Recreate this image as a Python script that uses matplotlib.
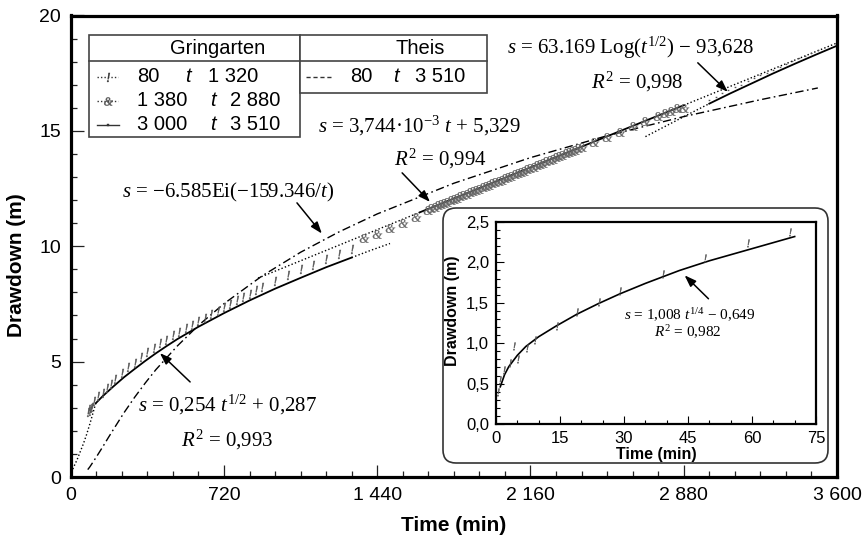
import matplotlib
matplotlib.use('Agg')
import matplotlib.pyplot as plt
from matplotlib import font_manager as fm
from matplotlib.patches import FancyBboxPatch, Rectangle
from matplotlib.lines import Line2D
from matplotlib.transforms import IdentityTransform, Affine2D
from matplotlib.textpath import TextPath
from matplotlib.ticker import MultipleLocator

# ---------------- data ----------------
# observed drawdown, Gringarten period 1 (80 <= t <= 1320)
t_obs1 = [80, 85, 90, 95, 100, 110, 130, 150, 170, 190, 210, 240, 270, 300, 330, 360, 390, 420,
          450, 480, 510, 540, 570, 600, 630, 660, 690, 720, 750, 780, 810, 840, 870, 900, 960,
          1020, 1080, 1140, 1200, 1260, 1320]
s_obs1 = [2.80, 2.95, 2.85, 3.00, 3.05, 3.30, 3.50, 3.65, 3.85, 4.05, 4.25, 4.50, 4.75, 4.95,
          5.20, 5.40, 5.60, 5.80, 5.95, 6.15, 6.30, 6.45, 6.60, 6.75, 6.90, 7.05, 7.20, 7.35,
          7.50, 7.65, 7.80, 7.95, 8.10, 8.25, 8.50, 8.75, 9.00, 9.20, 9.45, 9.65, 9.90]
# observed drawdown, period 2 (1380 <= t <= 2880)
t_obs2 = [1380, 1440, 1500, 1560, 1620, 1680, 1695, 1710, 1725, 1740, 1755, 1770, 1785, 1800,
          1815, 1830, 1845, 1860, 1875, 1890, 1905, 1920, 1935, 1950, 1965, 1980, 1995, 2010,
          2025, 2040, 2055, 2070, 2085, 2100, 2115, 2130, 2145, 2160, 2175, 2190, 2205, 2220,
          2235, 2250, 2265, 2280, 2295, 2310, 2325, 2340, 2355, 2370, 2385, 2400, 2460, 2520,
          2580, 2640, 2700, 2760, 2790, 2820, 2850, 2880]
s_obs2 = [10.35, 10.55, 10.80, 11.00, 11.25, 11.58, 11.66, 11.70, 11.77, 11.82, 11.88, 11.93,
          12.00, 12.05, 12.10, 12.16, 12.22, 12.27, 12.33, 12.39, 12.44, 12.50, 12.55, 12.61,
          12.67, 12.72, 12.78, 12.84, 12.89, 12.95, 13.00, 13.06, 13.12, 13.17, 13.23, 13.28,
          13.34, 13.40, 13.45, 13.51, 13.57, 13.62, 13.68, 13.74, 13.79, 13.85, 13.90, 13.96,
          14.02, 14.07, 14.13, 14.18, 14.24, 14.30, 14.52, 14.75, 14.97, 15.20, 15.42, 15.64,
          15.76, 15.87, 15.98, 16.00]
# observed drawdown, period 3 (3000 <= t <= 3510)
t_obs3 = [3000, 3030, 3060, 3090, 3120, 3150, 3180, 3210, 3240, 3270, 3300, 3330, 3360, 3390,
          3420, 3450, 3480, 3510]
s_obs3 = [16.35, 16.48, 16.62, 16.75, 16.88, 17.00, 17.14, 17.27, 17.40, 17.52, 17.65, 17.77,
          17.90, 18.02, 18.14, 18.26, 18.38, 18.50]

# fitted curves
t_early = [3, 15, 30, 45, 60, 75, 90, 100, 110, 118]
s_early = [0.20, 0.45, 0.75, 1.10, 1.45, 1.85, 2.30, 2.62, 2.95, 3.20]
t_sqrt = [118, 150, 200, 250, 300, 350, 400, 450, 500, 600, 720, 840, 960, 1080, 1200, 1320]
s_sqrt = [3.20, 3.50, 3.92, 4.32, 4.68, 5.03, 5.36, 5.67, 5.97, 6.51, 7.10, 7.65, 8.16, 8.63,
          9.09, 9.51]
t_sqrt_ext = [1320, 1400, 1500]
s_sqrt_ext = [9.51, 9.79, 10.12]
t_lin_pre = [880, 1640]
s_lin_pre = [8.62, 11.47]
t_lin = [1640, 2880]
s_lin = [11.47, 16.11]
t_lin_post = [2880, 3600]
s_lin_post = [16.11, 18.81]
t_log_pre = [2700, 2800, 2900, 3000]
s_log_pre = [14.75, 15.23, 15.71, 16.18]
t_log = [3000, 3100, 3200, 3300, 3400, 3500, 3600]
s_log = [16.18, 16.63, 17.06, 17.49, 17.90, 18.30, 18.69]
t_theis = [80, 90, 100, 120, 150, 175, 200, 250, 300, 350, 400, 500, 600, 720, 900, 1080, 1260,
           1440, 1800, 2160, 2520, 2880, 3240, 3510]
s_theis = [0.32, 0.44, 0.58, 0.86, 1.30, 1.68, 2.05, 2.78, 3.45, 4.07, 4.65, 5.67, 6.57, 7.51,
           8.72, 9.74, 10.62, 11.40, 12.73, 13.84, 14.79, 15.62, 16.35, 16.86]

# inset (early times)
t_in_obs = [0.5, 0.9, 1.9, 3.3, 4.3, 5.2, 7.2, 9.1, 14.2, 19.1, 24.1, 29.1, 39.1, 49.1, 59.0, 68.9]
s_in_obs = [0.40, 0.54, 0.67, 0.75, 0.97, 0.81, 0.94, 1.04, 1.21, 1.38, 1.51, 1.64, 1.86, 2.05,
            2.24, 2.38]
t_in_fit = [1, 2, 3, 5, 7, 10, 14, 19, 24, 29, 35, 43, 50, 60, 70]
s_in_fit = [0.46, 0.61, 0.71, 0.85, 0.96, 1.08, 1.21, 1.36, 1.49, 1.61, 1.74, 1.90, 2.02, 2.17, 2.32]

x_ticks = [0, 720, 1440, 2160, 2880, 3600]
x_ticklabels = ['0', '720', '1 440', '2 160', '2 880', '3 600']
y_ticks = [0, 5, 10, 15, 20]
y_ticklabels = ['0', '5', '10', '15', '20']
xi_ticks = [0, 15, 30, 45, 60, 75]
xi_ticklabels = ['0', '15', '30', '45', '60', '75']
yi_ticks = [0, 0.5, 1.0, 1.5, 2.0, 2.5]
yi_ticklabels = ['0,0', '0,5', '1,0', '1,5', '2,0', '2,5']

# ---------------- style ----------------
W, H = 867, 542


def has_font(name):
    try:
        fm.findfont(fm.FontProperties(family=name), fallback_to_default=False)
        return True
    except Exception:
        return False


SANS = 'Liberation Sans Narrow' if has_font('Liberation Sans Narrow') else 'Liberation Sans'
REG = 'Liberation Sans'
SERIF = 'Liberation Serif'
plt.rcParams['font.family'] = [SANS, 'DejaVu Sans']
plt.rcParams['mathtext.fontset'] = 'custom'
plt.rcParams['mathtext.rm'] = SERIF
plt.rcParams['mathtext.it'] = SERIF + ':italic'
plt.rcParams['mathtext.bf'] = SERIF + ':bold'


def glyph_marker(ch, family=SERIF, style='normal'):
    tp = TextPath((0, 0), ch, size=10, prop=fm.FontProperties(family=family, style=style))
    ext = tp.get_extents()
    cx = (ext.x0 + ext.x1) / 2
    cy = (ext.y0 + ext.y1) / 2
    return tp.transformed(Affine2D().translate(-cx, -cy))


M_EXCL = glyph_marker('!', style='italic')
M_AMP = glyph_marker('&', style='italic')
M_QUOT = glyph_marker('"')


def fx(x):
    return x / W


def fy(y):
    return 1 - y / H


fig = plt.figure(figsize=(W / 100, H / 100), dpi=100)
L, R, T, B = 70.7, 837, 15.5, 477
ax = fig.add_axes([fx(L), fy(B), (R - L) / W, (B - T) / H])
ax.set_xlim(0, 3600)
ax.set_ylim(0, 20)
for sp in ax.spines.values():
    sp.set_linewidth(2.3)
ax.xaxis.set_minor_locator(MultipleLocator(120))
ax.yaxis.set_minor_locator(MultipleLocator(1))
ax.set_xticks(x_ticks)
ax.set_xticklabels(x_ticklabels)
ax.set_yticks(y_ticks)
ax.set_yticklabels(y_ticklabels)
ax.tick_params(which='both', direction='in', top=False, right=False, width=0.9, color='#222')
ax.tick_params(which='major', length=9, labelsize=14, pad=7)
ax.tick_params(which='minor', length=4.5)
ax.set_xlabel('Time (min)', fontsize=15, fontweight='bold', labelpad=9)
ax.set_ylabel('Drawdown (m)', fontsize=15, fontweight='bold')
ax.yaxis.set_label_coords(-0.058, 0.46)

SER = dict(family=SERIF, fontsize=15)
lc = 'black'
DOT = (0, (1, 1.6))
ax.plot(t_early, s_early, ls=DOT, color=lc, lw=1.0)
ax.plot(t_sqrt, s_sqrt, '-', color=lc, lw=1.3)
ax.plot(t_sqrt_ext, s_sqrt_ext, ls=DOT, color=lc, lw=1.0)
ax.plot(t_lin_pre, s_lin_pre, ls=DOT, color=lc, lw=1.0)
ax.plot(t_lin, s_lin, '-', color=lc, lw=1.3)
ax.plot(t_lin_post, s_lin_post, ls=DOT, color=lc, lw=1.0)
ax.plot(t_log_pre, s_log_pre, ls=DOT, color=lc, lw=1.0)
ax.plot(t_log, s_log, '-', color=lc, lw=1.3)
ax.plot(t_theis, s_theis, ls=(0, (6, 2.5, 1.2, 2.5)), color=lc, lw=1.0)

mc = '#555555'
ax.plot(t_obs1, s_obs1, ls='none', marker=M_EXCL, ms=6.5, color=mc, mew=0.3)
ax.plot(t_obs2, s_obs2, ls='none', marker=M_AMP, ms=7.5, color='#666666', mew=0.2)
ax.plot(t_obs3, s_obs3, ls='none', marker=M_QUOT, ms=3.5, color=mc, mew=0.3)

arr = dict(arrowstyle='-|>,head_length=0.7,head_width=0.25', color='black', lw=1.1,
           shrinkA=0, shrinkB=0)
ax.text(736, 3.12, r'$s$ = 0,254 $t^{1/2}$ + 0,287', ha='center', va='center', **SER)
ax.text(735, 1.6, r'$R^{2}$ = 0,993', ha='center', va='center', **SER)
ax.annotate('', xy=(419, 5.37), xytext=(561, 4.12), arrowprops=arr)

ax.text(740, 12.31, r'$s$ = −6.585Ei(−159.346/$t$)', ha='center', va='center', **SER)
ax.annotate('', xy=(1180, 10.55), xytext=(1063, 11.88), arrowprops=arr)

ax.text(1640, 15.21, r'$s$ = 3,744·10$^{-3}$ $t$ + 5,329', ha='center', va='center', **SER)
ax.text(1739, 13.78, r'$R^{2}$ = 0,994', ha='center', va='center', **SER)
ax.annotate('', xy=(1688, 11.92), xytext=(1557, 13.18), arrowprops=arr)

ax.text(2632, 18.6, r'$s$ = 63.169 Log($t^{1/2}$) − 93,628', ha='center', va='center', **SER)
ax.text(2660, 17.12, r'$R^{2}$ = 0,998', ha='center', va='center', **SER)
ax.annotate('', xy=(3087, 16.69), xytext=(2946, 17.95), arrowprops=arr)

# ---------------- legend table ----------------
gc = '#444444'
tlw = 1.2
fig.add_artist(Rectangle((fx(89), fy(137)), (300 - 89) / W, (137 - 35) / H, transform=fig.transFigure,
                         fc='white', ec=gc, lw=tlw, zorder=5))
fig.add_artist(Rectangle((fx(300), fy(93)), (487 - 300) / W, (93 - 35) / H, transform=fig.transFigure,
                         fc='white', ec=gc, lw=tlw, zorder=5))
fig.add_artist(Line2D([fx(89), fx(487)], [fy(61), fy(61)], transform=fig.transFigure, color=gc,
                      lw=tlw, zorder=6))
LT = dict(fontsize=14.5, va='center', zorder=7, family=[REG, 'DejaVu Sans'])
fig.text(fx(218), fy(48), 'Gringarten', ha='center', **LT)
fig.text(fx(420), fy(48), 'Theis', ha='center', **LT)


def leg_line(y, x0, x1, ls, marker=None, ms=5, mc_=None):
    fig.add_artist(Line2D([fx(x0), fx(x1)], [fy(y), fy(y)], transform=fig.transFigure, color='#333',
                          lw=1.0, ls=ls, zorder=7))
    if marker is not None:
        fig.add_artist(Line2D([fx((x0 + x1) / 2)], [fy(y)], transform=fig.transFigure,
                              color=mc_ if mc_ else '#333', ls='none', marker=marker, ms=ms,
                              mew=0.3, zorder=8))


leg_line(77, 97, 118, (0, (1, 1.5)), M_EXCL, 6.5)
leg_line(101, 97, 118, (0, (1, 1.5)), M_AMP, 7, '#555555')
leg_line(125, 97, 119, '-', 's', 1.8)
leg_line(77, 306, 332, (0, (3, 2)))

rows = [(77, '80', 185, '1 320', 208), (101, '1 380', 210, '2 880', 230),
        (125, '3 000', 210, '3 510', 230)]
for y, a, xt, b, xb in rows:
    fig.text(fx(137), fy(y), a, ha='left', **LT)
    fig.text(fx(xt), fy(y), 't', ha='left', style='italic', **LT)
    fig.text(fx(xb), fy(y), b, ha='left', **LT)
fig.text(fx(350), fy(77), '80', ha='left', **LT)
fig.text(fx(393), fy(77), 't', ha='left', style='italic', **LT)
fig.text(fx(415), fy(77), '3 510', ha='left', **LT)

# ---------------- inset ----------------
box = FancyBboxPatch((443, H - 463), 828 - 443, 463 - 208, boxstyle='round,pad=0,rounding_size=13',
                     transform=IdentityTransform(), fc='white', ec='#333333', lw=1.2, zorder=2)
fig.add_artist(box)
axi = fig.add_axes([fx(496), fy(424), (816 - 496) / W, (424 - 222) / H], zorder=3)
axi.set_xlim(0, 75)
axi.set_ylim(0, 2.5)
for sp in axi.spines.values():
    sp.set_linewidth(1.6)
axi.set_xticks(xi_ticks)
axi.set_xticklabels(xi_ticklabels)
axi.set_yticks(yi_ticks)
axi.set_yticklabels(yi_ticklabels)
axi.xaxis.set_minor_locator(MultipleLocator(5))
axi.yaxis.set_minor_locator(MultipleLocator(0.1))
axi.tick_params(which='both', direction='in', top=False, right=False, width=0.8)
axi.tick_params(which='major', length=6, labelsize=12, pad=5)
axi.tick_params(which='minor', length=3)
axi.set_xlabel('Time (min)', fontsize=11.5, fontweight='bold', labelpad=1)
axi.set_ylabel('Drawdown (m)', fontsize=11.5, fontweight='bold')
axi.yaxis.set_label_coords(-0.112, 0.56)
axi.plot(t_in_fit, s_in_fit, '-', color='black', lw=1.2)
axi.plot(t_in_obs, s_in_obs, ls='none', marker=M_EXCL, ms=5.5, color=mc, mew=0.3)
SERI = dict(family=SERIF, fontsize=11)
axi.text(45.3, 1.35, r'$s$ = 1,008 $t^{1/4}$ − 0,649', ha='center', va='center', **SERI)
axi.text(44.9, 1.13, r'$R^{2}$ = 0,982', ha='center', va='center', **SERI)
axi.annotate('', xy=(44.2, 1.84), xytext=(49.8, 1.55), arrowprops=arr)

fig.savefig('out.png', dpi=100)
